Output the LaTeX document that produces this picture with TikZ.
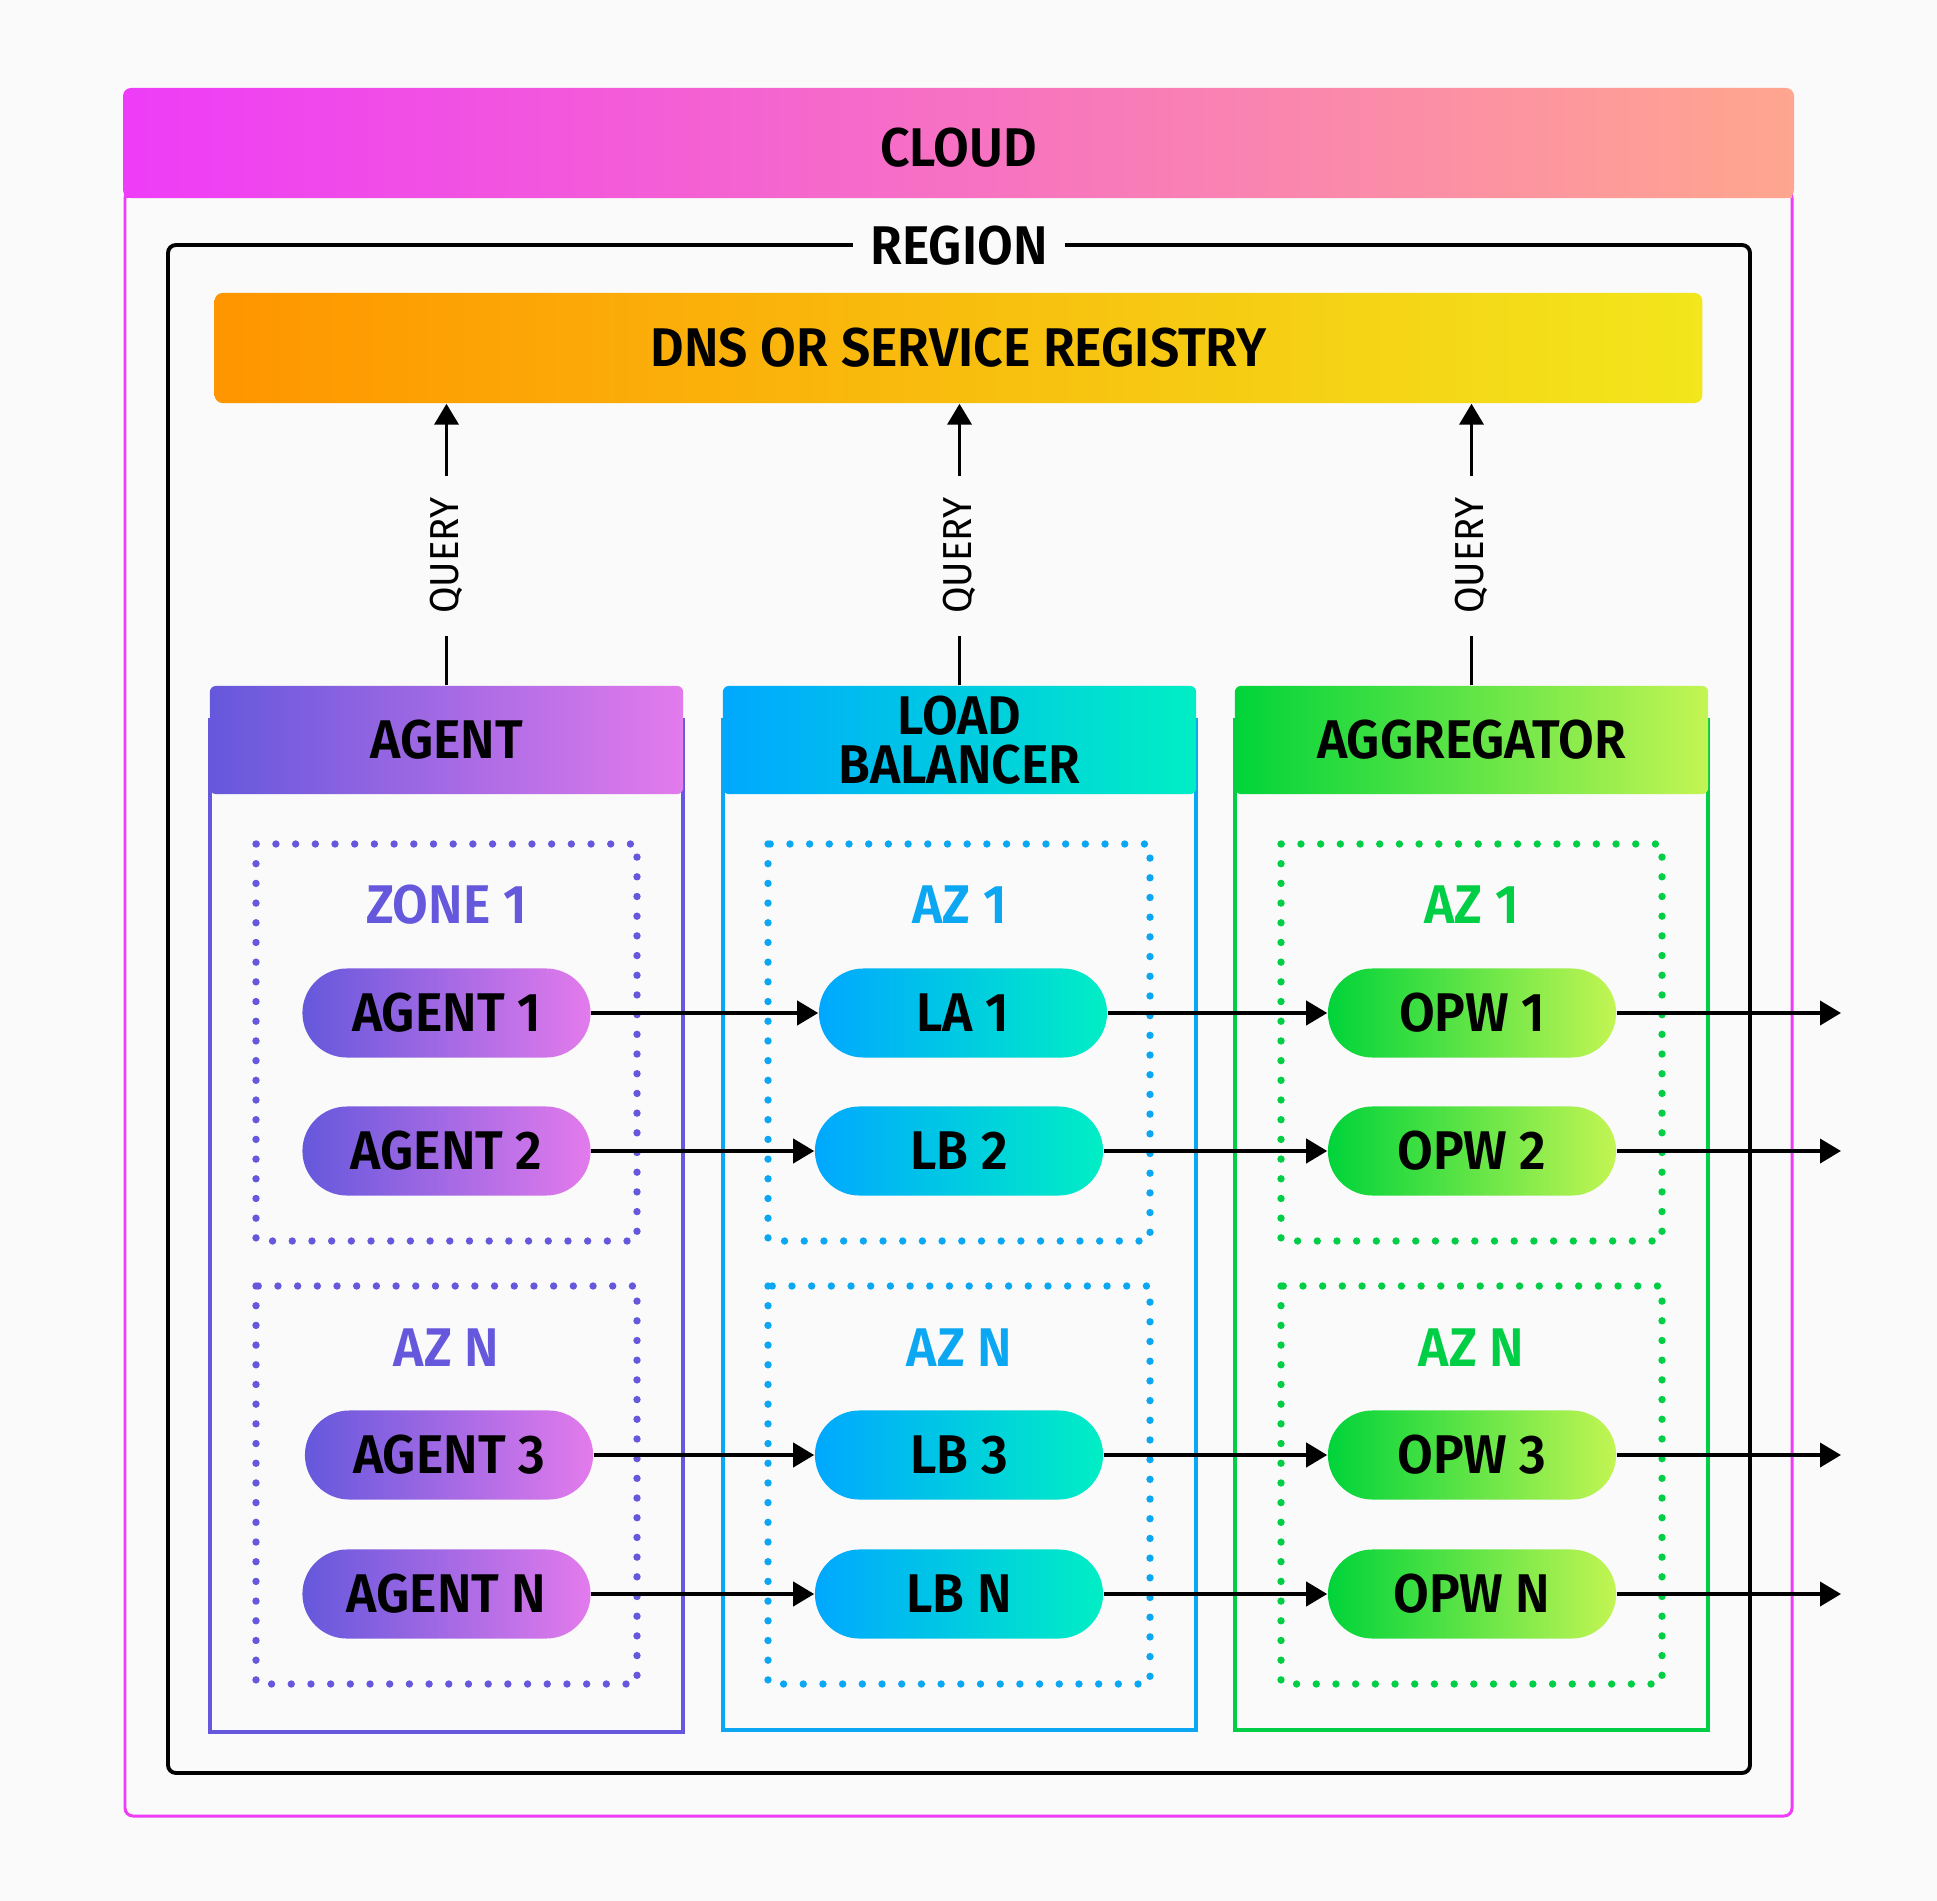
\documentclass[tikz,border=0pt]{standalone}
\usepackage{fontspec}
\IfFontExistsTF{Fira Sans SemiBold}
    {\setmainfont{Fira Sans}[BoldFont={Fira Sans SemiBold},FakeStretch=0.95]}
    {\setmainfont{Fira Sans}[FakeStretch=0.93]}
\usetikzlibrary{arrows.meta,positioning}

\definecolor{bg}{HTML}{FAFAFA}
\definecolor{clL}{HTML}{EE3CF8}
\definecolor{clR}{HTML}{FFA68E}
\definecolor{dnsL}{HTML}{FF9500}
\definecolor{dnsR}{HTML}{F2E61C}
\definecolor{agL}{HTML}{6558DC}
\definecolor{agR}{HTML}{E37BEC}
\definecolor{lbL}{HTML}{00A8FF}
\definecolor{lbR}{HTML}{00EEC4}
\definecolor{lbC}{HTML}{0BA7F2}
\definecolor{ogL}{HTML}{00D43A}
\definecolor{ogR}{HTML}{C3F553}
\definecolor{ogC}{HTML}{00CE45}

\newcommand\hd{\bfseries\fontsize{15.5}{14}\selectfont}

\begin{document}
\begin{tikzpicture}[x=0.01cm,y=-0.01cm]

\tikzset{
    head/.style args={#1:#2}{
        left color=#1,
        right color=#2,
        minimum width=4.73cm,
        minimum height=1.08cm,
        rounded corners=0.06cm,
        inner sep=0pt,
        align=center,
        font=\hd,
    },
    pill/.style args={#1:#2}{
        left color=#1,
        right color=#2,
        minimum width=2.88cm,
        minimum height=0.89cm,
        rounded corners=0.445cm,
        inner sep=0pt,
        font=\hd,
    },
    zone/.style={
        draw=#1,
        line width=2.1pt,
        line cap=round,
        dash pattern=on 0pt off 5.6pt,
    },
    zlab/.style={
        text=#1,
        font=\hd,
    },
    col/.style={
        draw=#1,
        line width=0.9pt,
    },
    flow/.style={
        line width=1.1pt,
        -{Triangle[length=0.21cm,width=0.24cm]},
    },
    query/.style={
        fill=bg,
        rotate=90,
        inner xsep=0.22cm,
        font=\fontsize{11.5}{11}\selectfont,
    }
}

\fill[bg] (0,0) rectangle (1937,1901);

% cloud
\draw[clL, line width=0.85pt, rounded corners=0.08cm] (125,190) rectangle (1792,1816);
\shade[left color=clL, right color=clR] (125,150) rectangle (1792,198);
\node(cloud) [left color=clL, right color=clR, minimum width=16.7cm, minimum height=1.1cm, rounded corners=0.08cm] at (958.5,143) {};
\node(cloudtxt) [font=\hd] at (958.5,148) {CLOUD};

% region
\draw[line width=1.1pt, rounded corners=0.08cm] (168,245) rectangle (1750,1773);
\node(region) [fill=bg, inner xsep=0.17cm, font=\hd] at (959,246) {REGION};

\node(dns) [left color=dnsL, right color=dnsR, minimum width=14.87cm, minimum height=1.1cm, rounded corners=0.08cm, font=\hd] at (958.5,348) {DNS OR SERVICE REGISTRY};

% columns
\draw[col=agL] (210,720) rectangle (683,1732);
\draw[col=lbC] (723,720) rectangle (1196,1730);
\draw[col=ogC] (1235,720) rectangle (1708,1730);

\node(agent) [head=agL:agR] at (446.5,740) {AGENT};
\node(lb) [head=lbL:lbR] at (959.5,740) {LOAD\\BALANCER};
\node(agg) [head=ogL:ogR] at (1471.5,740) {AGGREGATOR};

\draw[flow] (agent.north) -- (agent.north |- dns.south) node[pos=0.46, query] {QUERY};
\draw[flow] (lb.north) -- (lb.north |- dns.south) node[pos=0.46, query] {QUERY};
\draw[flow] (agg.north) -- (agg.north |- dns.south) node[pos=0.46, query] {QUERY};

% zones
\draw[zone=agL] (256,844) rectangle (637,1241);
\draw[zone=agL] (256,1286) rectangle (637,1684);
\draw[zone=lbC] (768,844) rectangle (1150,1241);
\draw[zone=lbC] (768,1286) rectangle (1150,1684);
\draw[zone=ogC] (1281,844) rectangle (1662,1241);
\draw[zone=ogC] (1281,1286) rectangle (1662,1684);

\node(za1) [zlab=agL] at (446.5,905) {ZONE 1};
\node(zan) [zlab=agL] at (446.5,1348) {AZ N};
\node(zl1) [zlab=lbC] at (959.5,905) {AZ 1};
\node(zln) [zlab=lbC] at (959.5,1348) {AZ N};
\node(zo1) [zlab=ogC] at (1471.5,905) {AZ 1};
\node(zon) [zlab=ogC] at (1471.5,1348) {AZ N};

% pills
\node(a1) [pill=agL:agR] at (446.5,1013) {AGENT 1};
\node(a2) [pill=agL:agR] at (446.5,1151) {AGENT 2};
\node(a3) [pill=agL:agR] at (449,1455) {AGENT 3};
\node(an) [pill=agL:agR] at (446.5,1594) {AGENT N};

\node(l1) [pill=lbL:lbR] at (963,1013) {LA 1};
\node(l2) [pill=lbL:lbR] at (959,1151) {LB 2};
\node(l3) [pill=lbL:lbR] at (959,1455) {LB 3};
\node(ln) [pill=lbL:lbR] at (959,1594) {LB N};

\node(o1) [pill=ogL:ogR] at (1472,1013) {OPW 1};
\node(o2) [pill=ogL:ogR] at (1472,1151) {OPW 2};
\node(o3) [pill=ogL:ogR] at (1472,1455) {OPW 3};
\node(on) [pill=ogL:ogR] at (1472,1594) {OPW N};

\coordinate (e1) at (1841,1013);
\coordinate (e2) at (1841,1151);
\coordinate (e3) at (1841,1455);
\coordinate (en) at (1841,1594);

\draw[flow] (a1) -- (l1);
\draw[flow] (a2) -- (l2);
\draw[flow] (a3) -- (l3);
\draw[flow] (an) -- (ln);
\draw[flow] (l1) -- (o1);
\draw[flow] (l2) -- (o2);
\draw[flow] (l3) -- (o3);
\draw[flow] (ln) -- (on);
\draw[flow] (o1) -- (e1);
\draw[flow] (o2) -- (e2);
\draw[flow] (o3) -- (e3);
\draw[flow] (on) -- (en);

\end{tikzpicture}
\end{document}
